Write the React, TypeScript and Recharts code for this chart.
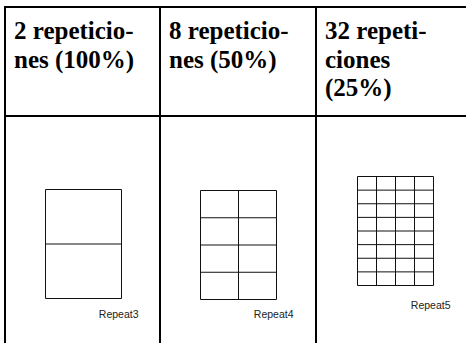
import React from 'react';
import { ComposedChart, XAxis, YAxis, ReferenceLine } from 'recharts';

// header text of each column, already split at the hyphen breaks
const panelTitles: string[][] = [
  ['2 repeticio-', 'nes (100%)'],
  ['8 repeticio-', 'nes (50%)'],
  ['32 repeti-', 'ciones', '(25%)'],
];
const gridCols = [1, 2, 4];
const gridRows = [2, 4, 8];
const captions = ['Repeat3', 'Repeat4', 'Repeat5'];

// where each small grid sits on the page
const panelLayout = [
  { left: 45, top: 189, capDy: 19 },
  { left: 200, top: 190, capDy: 18 },
  { left: 357, top: 176, capDy: 23 },
];
const columnLeft = [5, 160, 316];

const BOX_W = 76;
const BOX_H = 109;

const range = (n: number) => Array.from({ length: n + 1 }, (_, i) => i);

const GridPanel: React.FC<{ cols: number; rows: number; caption: string; capDy: number }> = ({
  cols,
  rows,
  caption,
  capDy,
}) => {
  const margin = { top: 0.5, left: 0.5, right: 22, bottom: 30 };
  const width = BOX_W + margin.left + margin.right;
  const height = BOX_H + margin.top + margin.bottom;
  return (
    <ComposedChart width={width} height={height} margin={margin} data={[]}>
      <XAxis type="number" dataKey="x" domain={[0, cols]} hide allowDataOverflow />
      <YAxis type="number" dataKey="y" domain={[0, rows]} hide allowDataOverflow />
      {range(cols).map((i) => (
        <ReferenceLine key={'v' + i} x={i} stroke="#111" strokeWidth={1} ifOverflow="visible" />
      ))}
      {range(rows).map((j) => (
        <ReferenceLine key={'h' + j} y={j} stroke="#111" strokeWidth={1} ifOverflow="visible" />
      ))}
      <text
        x={margin.left + BOX_W + 17}
        y={margin.top + BOX_H + capDy}
        textAnchor="end"
        fontFamily="'Liberation Sans', Arial, sans-serif"
        fontSize={10.5}
        fill="#222"
      >
        {caption}
      </text>
    </ComposedChart>
  );
};

const line = (style: React.CSSProperties) => (
  <div style={{ position: 'absolute', background: '#000', ...style }} />
);

export default function App() {
  return (
    <div style={{ position: 'absolute', left: 0, top: 0, width: 466, height: 343, background: '#fff', overflow: 'hidden' }}>
      {/* table rules */}
      {line({ left: 4, top: 6, width: 462, height: 2 })}
      {line({ left: 4, top: 6, width: 2, height: 337 })}
      {line({ left: 159, top: 6, width: 2, height: 337 })}
      {line({ left: 315, top: 6, width: 2, height: 337 })}
      {line({ left: 4, top: 115, width: 462, height: 2 })}

      {panelTitles.map((lines, k) => (
        <div
          key={k}
          style={{
            position: 'absolute',
            left: columnLeft[k] + 9,
            top: 17,
            fontFamily: "'Liberation Serif', 'DejaVu Serif', serif",
            fontWeight: 700,
            fontSize: 25,
            lineHeight: '28.5px',
            color: '#000',
            whiteSpace: 'nowrap',
          }}
        >
          {lines.map((t, i) => (
            <div key={i}>{t}</div>
          ))}
        </div>
      ))}

      {panelLayout.map((p, k) => (
        <div key={k} style={{ position: 'absolute', left: p.left, top: p.top }}>
          <GridPanel cols={gridCols[k]} rows={gridRows[k]} caption={captions[k]} capDy={p.capDy} />
        </div>
      ))}
    </div>
  );
}
